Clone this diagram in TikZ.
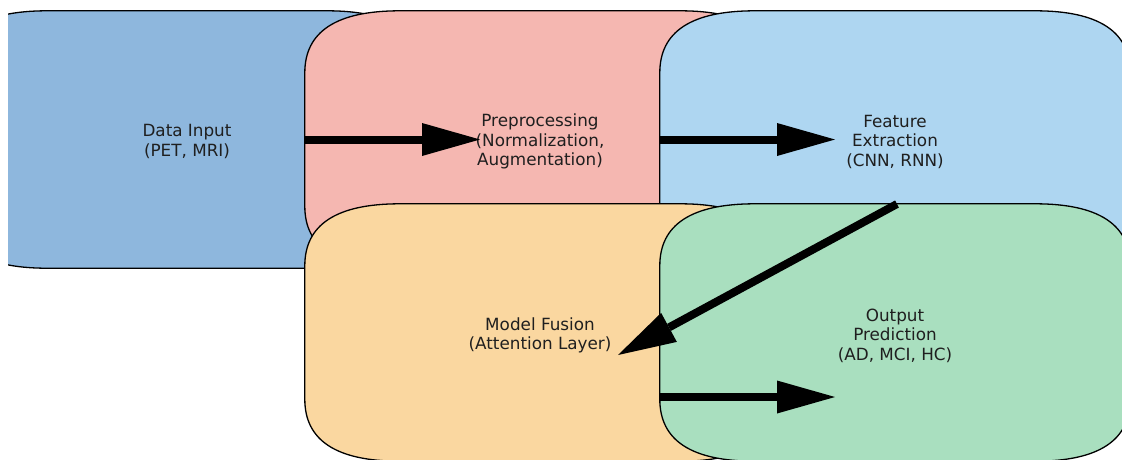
\documentclass[tikz,border=0pt]{standalone}
\usepackage{fontspec}
\setmainfont{DejaVu Sans}
\usetikzlibrary{arrows.meta}
\definecolor{cin}{RGB}{142,183,221}
\definecolor{cpre}{RGB}{245,183,177}
\definecolor{cfeat}{RGB}{174,214,241}
\definecolor{cfus}{RGB}{250,215,160}
\definecolor{cout}{RGB}{169,223,191}
\newcommand\rshape[2]{%
  \filldraw[boxline, fill=#2]
    ([xshift=95pt]#1.north west) -- ([xshift=-95pt]#1.north east)
    .. controls ([xshift=-31.67pt]#1.north east) and ([yshift=-20.67pt]#1.north east) .. ([yshift=-62pt]#1.north east)
    -- ([yshift=62pt]#1.south east)
    .. controls ([yshift=20.67pt]#1.south east) and ([xshift=-31.67pt]#1.south east) .. ([xshift=-95pt]#1.south east)
    -- ([xshift=95pt]#1.south west)
    .. controls ([xshift=31.67pt]#1.south west) and ([yshift=20.67pt]#1.south west) .. ([yshift=62pt]#1.south west)
    -- ([yshift=-62pt]#1.north west)
    .. controls ([yshift=-20.67pt]#1.north west) and ([xshift=31.67pt]#1.north west) .. ([xshift=95pt]#1.north west)
    -- cycle;}
\begin{document}
\begin{tikzpicture}[x=1pt,y=-1pt,
  boxn/.style={rectangle, minimum width=470pt, minimum height=257pt, inner sep=0pt},
  boxline/.style={draw=black, line width=1.3pt},
  txt/.style={align=center, font=\fontsize{16.8}{19.5}\selectfont, inner sep=0pt, text=black!88},
  arr/.style={line width=8pt, -{Triangle[length=58pt,width=33pt,line width=0pt]}}]
\useasboundingbox (0,0) rectangle (1122,459);
\begin{scope}
\clip (8,0) rectangle (1122,459);
% Data Input
\node[boxn] (in) at (187,139.5) {};
\rshape{in}{cin}
\node[txt] (intext) at ([yshift=-2pt]in.center) {Data Input\\(PET, MRI)};
% Preprocessing
\node[boxn] (pre) at (540,139.5) {};
\rshape{pre}{cpre}
\node[txt] (pretext) at ([yshift=-2pt]pre.center) {Preprocessing\\(Normalization,\\Augmentation)};
% Feature Extraction
\node[boxn] (feat) at (895,139.5) {};
\rshape{feat}{cfeat}
\node[txt] (feattext) at ([yshift=-2pt]feat.center) {Feature\\Extraction\\(CNN, RNN)};
% Model Fusion
\node[boxn] (fus) at (540,332.5) {};
\rshape{fus}{cfus}
\node[txt] (fustext) at ([yshift=-3pt]fus.center) {Model Fusion\\(Attention Layer)};
% Output Prediction
\node[boxn] (out) at (895,332.5) {};
\rshape{out}{cout}
\node[txt] (outtext) at ([yshift=-3pt]out.center) {Output\\Prediction\\(AD, MCI, HC)};
% arrows
\coordinate (t1) at (480,139.5);
\coordinate (t2) at (835,139.5);
\coordinate (s3) at (897,204);
\coordinate (t3) at (618,355);
\coordinate (s4) at (660,397);
\coordinate (t4) at (835,397);
\draw[arr] (pre.west) -- (t1);
\draw[arr] (feat.west) -- (t2);
\draw[arr] (s3) -- (t3);
\draw[arr] (s4) -- (t4);
\end{scope}
\end{tikzpicture}
\end{document}
